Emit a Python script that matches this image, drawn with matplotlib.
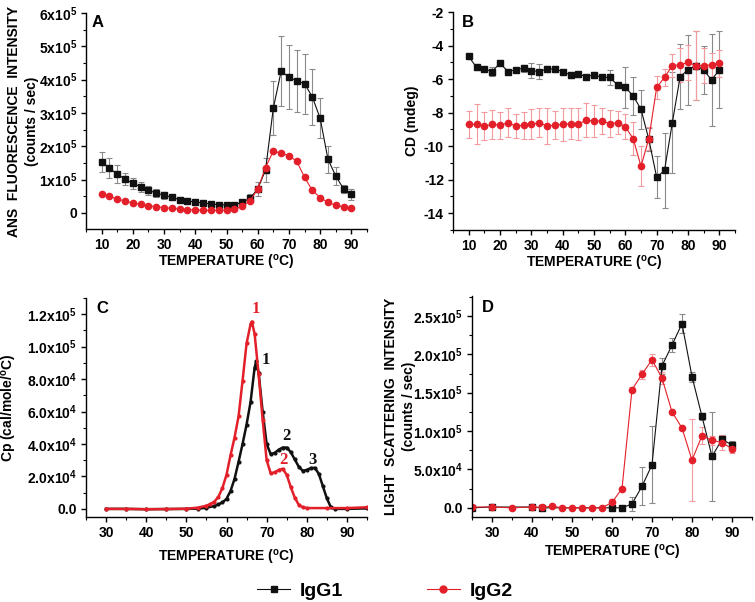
import matplotlib.pyplot as plt
from matplotlib.lines import Line2D
from matplotlib.ticker import MultipleLocator, FixedLocator

# ---- panel A: ANS fluorescence ----
A_T = [10, 12.5, 15, 17.5, 20, 22.5, 25, 27.5, 30, 32.5, 35, 37.5, 40, 42.5, 45, 47.5, 50,
       52.5, 55, 57.5, 60, 62.5, 65, 67.5, 70, 72.5, 75, 77.5, 80, 82.5, 85, 87.5, 90]
A_IGG1 = [1.54e5, 1.34e5, 1.17e5, 1.02e5, 0.89e5, 0.79e5, 0.68e5, 0.60e5, 0.53e5, 0.47e5, 0.40e5,
          0.36e5, 0.33e5, 0.30e5, 0.27e5, 0.25e5, 0.24e5, 0.25e5, 0.32e5, 0.44e5, 0.72e5, 1.29e5,
          3.15e5, 4.25e5, 4.08e5, 3.96e5, 3.88e5, 3.48e5, 2.84e5, 1.61e5, 1.11e5, 0.72e5, 0.56e5]
A_IGG1_ERR = [0.30e5, 0.30e5, 0.27e5, 0.17e5, 0.16e5, 0.15e5, 0.14e5, 0.12e5, 0.10e5, 0.08e5, 0.05e5,
              0.05e5, 0.05e5, 0.05e5, 0.05e5, 0.05e5, 0.05e5, 0.05e5, 0.06e5, 0.12e5, 0.20e5, 0.35e5,
              0.80e5, 1.05e5, 0.96e5, 0.94e5, 0.90e5, 0.84e5, 0.60e5, 0.40e5, 0.28e5, 0.13e5, 0.16e5]
A_IGG2 = [0.58e5, 0.50e5, 0.42e5, 0.36e5, 0.30e5, 0.26e5, 0.22e5, 0.19e5, 0.16e5, 0.14e5, 0.12e5,
          0.10e5, 0.09e5, 0.08e5, 0.08e5, 0.08e5, 0.09e5, 0.11e5, 0.20e5, 0.36e5, 0.72e5, 1.36e5,
          1.86e5, 1.79e5, 1.72e5, 1.55e5, 1.07e5, 0.68e5, 0.46e5, 0.32e5, 0.23e5, 0.19e5, 0.14e5]
A_IGG2_ERR = [0.01e5, 0.01e5, 0.01e5, 0.01e5, 0.01e5, 0.01e5, 0.01e5, 0.01e5, 0.01e5,
              0.01e5, 0.01e5, 0.01e5, 0.01e5, 0.01e5, 0.01e5, 0.01e5, 0.01e5, 0.01e5,
              0.01e5, 0.02e5, 0.03e5, 0.03e5, 0.02e5, 0.02e5, 0.02e5, 0.02e5, 0.02e5,
              0.01e5, 0.01e5, 0.01e5, 0.01e5, 0.01e5, 0.01e5]
A_YTICKS = [0, 1e5, 2e5, 3e5, 4e5, 5e5, 6e5]
A_YLABELS = ['0', r'$1x10^{5}$', r'$2x10^{5}$', r'$3x10^{5}$', r'$4x10^{5}$', r'$5x10^{5}$', r'$6x10^{5}$']

# ---- panel B: CD ----
B_T = A_T
B_IGG1 = [-4.65, -5.3, -5.4, -5.55, -5.05, -5.55, -5.45, -5.35, -5.5, -5.55, -5.4, -5.4, -5.55,
          -5.75, -5.7, -5.85, -5.75, -5.9, -5.9, -6.35, -6.5, -7.0, -7.8, -9.6, -11.85, -11.45,
          -8.6, -5.85, -5.45, -5.2, -5.45, -6.05, -5.45]
B_IGG1_ERR = [0.1, 0.15, 0.1, 0.25, 0.1, 0.15, 0.1, 0.2, 0.45, 0.45, 0.15, 0.15, 0.1, 0.2, 0.15, 0.1,
              0.2, 0.1, 0.45, 0.2, 1.2, 1.15, 1.15, 0.7, 1.25, 2.25, 3.0, 1.95, 2.1, 2.05, 1.45, 2.75, 2.3]
B_IGG2 = [-8.7, -8.7, -8.8, -8.7, -8.75, -8.6, -8.8, -8.75, -8.7, -8.6, -8.8, -8.75, -8.7, -8.65,
          -8.7, -8.45, -8.5, -8.5, -8.65, -8.6, -8.85, -9.55, -11.2, -9.55, -6.5, -5.9, -5.2, -5.15,
          -5.0, -5.2, -5.2, -5.15, -5.05]
B_IGG2_ERR = [0.8, 1.2, 0.85, 0.85, 0.8, 0.85, 0.7, 0.8, 0.9, 0.85, 1.05, 0.85, 1.0, 0.95, 0.95, 1.0,
              0.95, 0.75, 0.8, 0.7, 0.75, 1.0, 1.2, 0.7, 0.7, 0.5, 0.7, 1.0, 1.05, 2.05, 1.05, 0.7, 0.8]

# ---- panel C: DSC ----
C_T_IGG1 = [30, 35, 40, 45, 50, 53, 55, 57, 58, 59, 60, 61, 62, 63, 64, 65, 66, 67, 67.4, 68, 69,
            70, 71, 72, 73, 74, 75, 76, 77, 78, 79, 80, 81, 82, 83, 84, 85, 86, 87, 90, 95]
C_CP_IGG1 = [0, 0, -200, -100, 0, 200, 700, 1800, 2800, 4000, 6200, 11000, 18500, 29000, 40000,
             52000, 66000, 87000, 91000, 84000, 60000, 40000, 33800, 34500, 36500, 37800, 37800,
             35000, 30500, 26000, 23500, 24000, 25200, 25300, 21600, 14000, 6500, 1000, 0, 0, 300]
C_T_IGG2 = [30, 35, 40, 45, 50, 53, 55, 56, 57, 58, 59, 60, 61, 62, 63, 64, 65, 66, 66.3, 67, 68,
            69, 70, 71, 72, 73, 74, 75, 76, 77, 78, 79, 80, 85, 90, 95]
C_CP_IGG2 = [0, 0, -200, -100, 100, 800, 2000, 3000, 4500, 7500, 13000, 21000, 33000, 44000, 57000,
             79000, 102000, 114000, 115500, 108000, 83000, 55000, 30000, 22000, 22500, 24000, 24700,
             21000, 13500, 7000, 2500, 1000, 500, 500, 500, 1000]
C_YTICKS = [0, 2e4, 4e4, 6e4, 8e4, 1e5, 1.2e5]
C_YLABELS = ['0.0', r'$2.0x10^{4}$', r'$4.0x10^{4}$', r'$6.0x10^{4}$', r'$8.0x10^{4}$',
             r'$1.0x10^{5}$', r'$1.2x10^{5}$']
C_PEAKS_IGG1 = [('1', 69.7, 9.2e4), ('2', 74.9, 4.5e4), ('3', 81.3, 3.0e4)]
C_PEAKS_IGG2 = [('1', 67.4, 1.23e5), ('2', 74.2, 3.0e4)]

# ---- panel D: light scattering ----
D_T_IGG1 = [25, 30, 40, 42.5, 60, 62.5, 65, 67.5, 70, 72.5, 75, 77.5, 80, 82.5, 85, 87.5, 90]
D_IGG1 = [0, 1000, 1000, 0, 0, 0, 5000, 28000, 56000, 185000, 212000, 240000, 171000, 119000,
          67000, 89000, 82000]
D_IGG1_ERR = [0, 0, 0, 0, 0, 0, 9000, 25000, 50000, 10000, 9000, 12000, 6500, 5000, 58000, 6000, 5000]
D_T_IGG2 = [25, 30, 35, 40, 42.5, 45, 47.5, 50, 52.5, 55, 57.5, 60, 62.5, 65, 67.5, 70, 72.5, 75,
            77.5, 80, 82.5, 85, 87.5, 90]
D_IGG2 = [1000, 1000, 0, 1000, 500, 2000, 0, 0, 0, 0, 0, 7000, 25000, 154000, 174000, 193000,
          169000, 125000, 104000, 62000, 94000, 88000, 85000, 77000]
D_IGG2_ERR = [0, 0, 0, 0, 0, 0, 0, 0, 0, 0, 0, 4000, 0, 3000, 6000, 8000, 8000, 0, 0, 53500, 11000,
              6000, 10000, 5000]
D_YTICKS = [0, 5e4, 1e5, 1.5e5, 2e5, 2.5e5]
D_YLABELS = ['0.0', r'$5.0x10^{4}$', r'$1.0x10^{5}$', r'$1.5x10^{5}$', r'$2.0x10^{5}$', r'$2.5x10^{5}$']

SERIES = ['IgG1', 'IgG2']
BLACK = '#111111'
RED = '#e3202a'
RED_ERR = '#f29a9e'
GRAY_ERR = '#8a8a8a'

plt.rcParams['font.family'] = 'Liberation Sans'
plt.rcParams['font.weight'] = 'bold'
plt.rcParams['axes.unicode_minus'] = False
plt.rcParams['mathtext.fontset'] = 'custom'
plt.rcParams['mathtext.rm'] = 'Liberation Sans:bold'
plt.rcParams['mathtext.it'] = 'Liberation Sans:bold'
plt.rcParams['mathtext.bf'] = 'Liberation Sans:bold'

XLABEL = r'TEMPERATURE ($^{o}$C)'


def style_axis(ax, xlim, ylim, xmajor, yminor, label, label_xy, xlabel_y):
    ax.set_xlim(*xlim)
    ax.set_ylim(*ylim)
    for side in ['top', 'right']:
        ax.spines[side].set_visible(False)
    for side in ['left', 'bottom']:
        ax.spines[side].set_linewidth(1.0)
    ax.xaxis.set_major_locator(MultipleLocator(xmajor))
    ax.xaxis.set_minor_locator(MultipleLocator(xmajor / 2))
    ax.yaxis.set_minor_locator(MultipleLocator(yminor))
    ax.tick_params(which='major', direction='out', length=3.5, width=1.0, labelsize=10, pad=3)
    ax.tick_params(which='minor', direction='out', length=2, width=0.8)
    ax.text(label_xy[0], label_xy[1], label, transform=ax.transAxes, fontsize=12,
            fontweight='bold', ha='center', va='center')
    ax.set_xlabel(XLABEL, fontsize=10, fontweight='bold', va='center')
    ax.xaxis.set_label_coords(0.5, xlabel_y)


def plot_pair(ax, x1, y1, e1, x2, y2, e2):
    ax.errorbar(x1, y1, yerr=e1, fmt='-s', color=BLACK, ecolor=GRAY_ERR, elinewidth=0.8,
                capsize=2.5, capthick=0.8, markersize=4, lw=0.8)
    ax.errorbar(x2, y2, yerr=e2, fmt='-o', color=RED, ecolor=RED_ERR, elinewidth=0.8,
                capsize=2.5, capthick=0.8, markersize=4.5, lw=0.8)


fig = plt.figure(figsize=(7.55, 6.02), dpi=100)
W, H = 755, 602


def add_axes(left, right, top, bottom):
    return fig.add_axes([left / W, 1 - bottom / H, (right - left) / W, (bottom - top) / H])


axA = add_axes(86, 367, 13, 229)
axB = add_axes(453, 735, 12, 230)
axC = add_axes(86, 367, 298, 517)
axD = add_axes(472, 752, 296, 517)

# A
plot_pair(axA, A_T, A_IGG1, A_IGG1_ERR, A_T, A_IGG2, A_IGG2_ERR)
style_axis(axA, (5, 95), (-0.48e5, 6e5), 10, 0.5e5, 'A', (0.04, 0.954), -0.157)
axA.yaxis.set_major_locator(FixedLocator(A_YTICKS))
axA.set_yticklabels(A_YLABELS)
axA.set_ylabel('ANS  FLUORESCENCE  INTENSITY\n(counts / sec)', fontsize=10, fontweight='bold',
               va='center', linespacing=1.3)
axA.yaxis.set_label_coords(-0.224, 0.5)

# B
plot_pair(axB, B_T, B_IGG1, B_IGG1_ERR, B_T, B_IGG2, B_IGG2_ERR)
style_axis(axB, (5, 95), (-15, -2), 10, 1, 'B', (0.053, 0.954), -0.152)
axB.yaxis.set_major_locator(MultipleLocator(2))
axB.set_ylabel('CD (mdeg)', fontsize=10, fontweight='bold', va='center')
axB.yaxis.set_label_coords(-0.145, 0.5)

# C
axC.plot(C_T_IGG1, C_CP_IGG1, '-o', color=BLACK, lw=1.8, markersize=2)
axC.plot(C_T_IGG2, C_CP_IGG2, '-o', color=RED, lw=1.8, markersize=2)
style_axis(axC, (25, 95), (-5000, 1.3e5), 10, 1e4, 'C', (0.057, 0.954), -0.183)
axC.yaxis.set_major_locator(FixedLocator(C_YTICKS))
axC.set_yticklabels(C_YLABELS)
axC.set_ylabel(r'Cp (cal/mole/$^{o}$C)', fontsize=10, fontweight='bold', va='center')
axC.yaxis.set_label_coords(-0.274, 0.5)
for txt, x, y in C_PEAKS_IGG1:
    axC.text(x, y, txt, color=BLACK, fontsize=12, fontweight='bold', family='Liberation Serif',
             ha='center', va='center')
for txt, x, y in C_PEAKS_IGG2:
    axC.text(x, y, txt, color=RED, fontsize=12, fontweight='bold', family='Liberation Serif',
             ha='center', va='center')

# D
plot_pair(axD, D_T_IGG1, D_IGG1, D_IGG1_ERR, D_T_IGG2, D_IGG2, D_IGG2_ERR)
style_axis(axD, (25, 95), (-1.2e4, 2.76e5), 10, 2.5e4, 'D', (0.057, 0.95), -0.16)
axD.yaxis.set_major_locator(FixedLocator(D_YTICKS))
axD.set_yticklabels(D_YLABELS)
axD.set_ylabel('LIGHT  SCATTERING  INTENSITY\n(counts / sec)', fontsize=10, fontweight='bold',
               va='center', linespacing=1.3)
axD.yaxis.set_label_coords(-0.257, 0.5)

for ax in [axA, axB, axC, axD]:
    for t in ax.get_xticklabels() + ax.get_yticklabels():
        t.set_fontweight('bold')

handles = [Line2D([], [], color=BLACK, marker='s', markersize=4, lw=0.8),
           Line2D([], [], color=RED, marker='o', markersize=5, lw=0.8)]
fig.legend(handles, SERIES, loc='center', bbox_to_anchor=(0.51, 0.018), ncol=2, frameon=False,
           prop={'family': 'Liberation Sans', 'weight': 'bold', 'size': 14},
           handlelength=1.7, handletextpad=0.5, columnspacing=4.3)

fig.savefig('out.png', dpi=100)
